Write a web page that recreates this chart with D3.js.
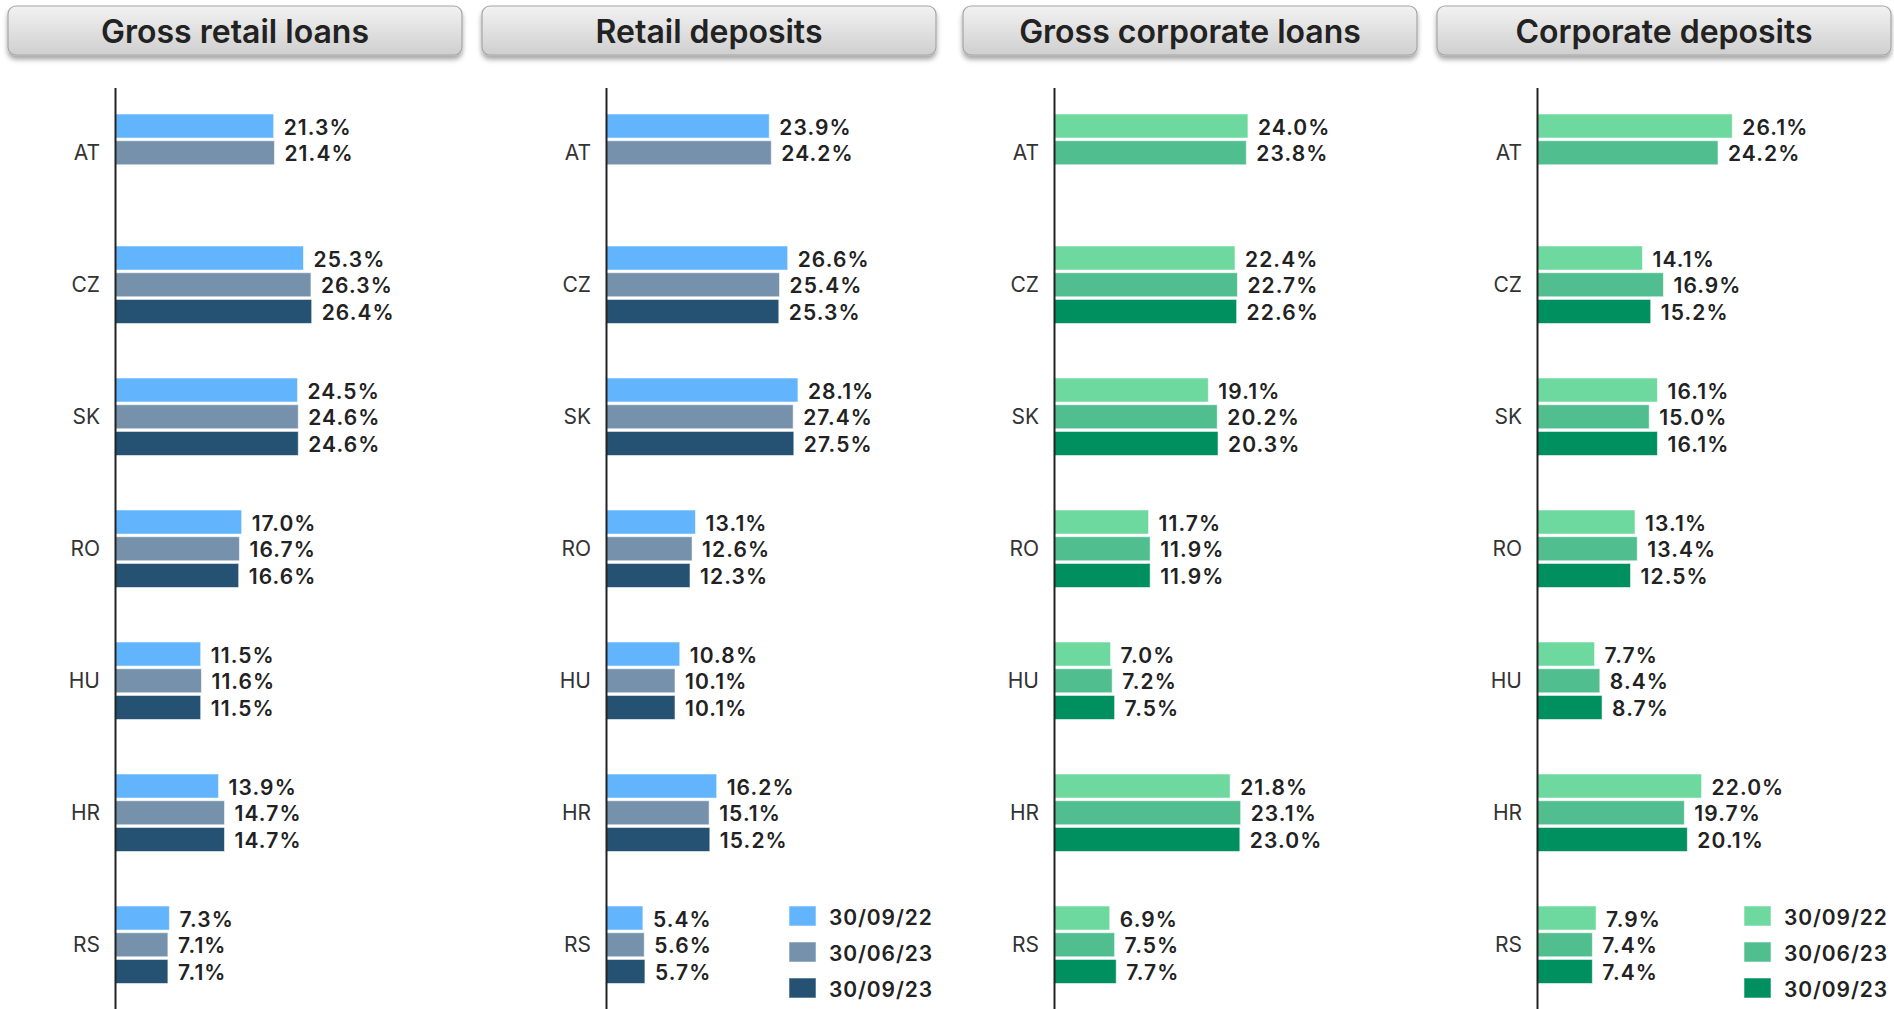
<!DOCTYPE html>
<html>
<head>
<meta charset="utf-8">
<script src="https://cdn.jsdelivr.net/npm/d3@7"></script>
<style>
  html, body { margin: 0; padding: 0; background: #fff; }
  svg { display: block; font-family: Inter, "Noto Sans", sans-serif; }
</style>
</head>
<body>
<svg id="chart" width="1894" height="1009"></svg>
<script>
// ---------- DATA ----------
const countries = ["AT", "CZ", "SK", "RO", "HU", "HR", "RS"];
const seriesLabels = ["30/09/22", "30/06/23", "30/09/23"];
const panelTitles = ["Gross retail loans", "Retail deposits", "Gross corporate loans", "Corporate deposits"];

// values per series (rows: 30/09/22, 30/06/23, 30/09/23), in %
const grossRetailLoans = [
  [21.3, 25.3, 24.5, 17.0, 11.5, 13.9, 7.3],
  [21.4, 26.3, 24.6, 16.7, 11.6, 14.7, 7.1],
  [null, 26.4, 24.6, 16.6, 11.5, 14.7, 7.1]
];
const retailDeposits = [
  [23.9, 26.6, 28.1, 13.1, 10.8, 16.2, 5.4],
  [24.2, 25.4, 27.4, 12.6, 10.1, 15.1, 5.6],
  [null, 25.3, 27.5, 12.3, 10.1, 15.2, 5.7]
];
const grossCorporateLoans = [
  [24.0, 22.4, 19.1, 11.7, 7.0, 21.8, 6.9],
  [23.8, 22.7, 20.2, 11.9, 7.2, 23.1, 7.5],
  [null, 22.6, 20.3, 11.9, 7.5, 23.0, 7.7]
];
const corporateDeposits = [
  [26.1, 14.1, 16.1, 13.1, 7.7, 22.0, 7.9],
  [24.2, 16.9, 15.0, 13.4, 8.4, 19.7, 7.4],
  [null, 15.2, 16.1, 12.5, 8.7, 20.1, 7.4]
];

// ---------- STYLE / LAYOUT ----------
const blues = ["#62b5fd", "#7691ac", "#255273"];
const greens = ["#6dd99e", "#50be8f", "#008f5e"];
const panelData = [grossRetailLoans, retailDeposits, grossCorporateLoans, corporateDeposits];
const panelColors = [blues, blues, greens, greens];
const panelBoxX = [8, 482, 963, 1437];
const panelAxisX = [115, 606, 1054, 1537];
const panelPxPerPct = [7.45, 6.83, 8.08, 7.48];
const panelLegend = [false, true, false, true];
const boxW = 454, boxY = 6, boxH = 49;

const svg = d3.select("#chart");
const defs = svg.append("defs");

const grad = defs.append("linearGradient").attr("id", "titleGrad")
  .attr("x1", 0).attr("y1", 0).attr("x2", 0).attr("y2", 1);
grad.append("stop").attr("offset", "0%").attr("stop-color", "#f2f2f2");
grad.append("stop").attr("offset", "100%").attr("stop-color", "#cfcfcf");

const shadow = defs.append("filter").attr("id", "shadow")
  .attr("x", "-10%").attr("y", "-30%").attr("width", "120%").attr("height", "170%");
shadow.append("feDropShadow").attr("dx", 0).attr("dy", 4).attr("stdDeviation", 2.5)
  .attr("flood-color", "#000").attr("flood-opacity", 0.35);

// shared category scale
const y = d3.scaleBand()
  .domain(countries)
  .range([87.6, 1009.9])
  .paddingInner(0.413)
  .paddingOuter(0.2);

const ySub = d3.scaleBand()
  .domain(seriesLabels)
  .range([0, y.bandwidth()])
  .paddingInner(0.1);

panelData.forEach((data, pi) => {
  const g = svg.append("g");
  const colors = panelColors[pi];

  // title box
  g.append("rect")
    .attr("x", panelBoxX[pi]).attr("y", boxY)
    .attr("width", boxW).attr("height", boxH)
    .attr("rx", 8).attr("ry", 8)
    .attr("fill", "url(#titleGrad)")
    .attr("stroke", "#a5a5a5").attr("stroke-width", 1.2)
    .attr("filter", "url(#shadow)");
  g.append("text")
    .attr("x", panelBoxX[pi] + boxW / 2).attr("y", boxY + boxH / 2 + 1)
    .attr("text-anchor", "middle").attr("dominant-baseline", "central")
    .attr("font-size", 32).attr("font-weight", 600).attr("fill", "#222")
    .text(panelTitles[pi]);

  const maxV = d3.max(data.flat());
  const x = d3.scaleLinear().domain([0, maxV]).range([0, maxV * panelPxPerPct[pi]]);
  const plot = g.append("g").attr("transform", `translate(${panelAxisX[pi]},0)`);

  // category labels
  plot.selectAll("text.cat").data(countries).join("text")
    .attr("class", "cat")
    .attr("x", -15)
    .attr("y", d => y(d) + y.bandwidth() / 2)
    .attr("text-anchor", "end").attr("dominant-baseline", "central")
    .attr("font-size", 21).attr("fill", "#333")
    .text(d => d);

  const items = [];
  data.forEach((row, si) => row.forEach((v, ci) => {
    if (v !== null && v !== undefined) items.push({ c: countries[ci], s: seriesLabels[si], si, v });
  }));

  plot.selectAll("rect.bar").data(items).join("rect")
    .attr("class", "bar")
    .attr("x", x(0))
    .attr("y", d => y(d.c) + ySub(d.s))
    .attr("width", d => x(d.v))
    .attr("height", ySub.bandwidth())
    .attr("fill", d => colors[d.si])
    .attr("stroke", "rgba(255,255,255,0.55)").attr("stroke-width", 1);

  plot.selectAll("text.val").data(items).join("text")
    .attr("class", "val")
    .attr("x", d => x(d.v) + 10)
    .attr("y", d => y(d.c) + ySub(d.s) + ySub.bandwidth() / 2 + 1)
    .attr("dominant-baseline", "central")
    .attr("font-size", 21).attr("font-weight", 600).attr("letter-spacing", 1.1)
    .attr("fill", "#222")
    .text(d => d.v.toFixed(1) + "%");

  // axis line
  const axis = d3.axisLeft(y).tickSize(0).tickFormat("");
  plot.append("g").call(axis)
    .call(s => s.select(".domain").attr("stroke", "#222").attr("stroke-width", 2));

  // legend
  if (panelLegend[pi]) {
    const lg = g.append("g").attr("transform", `translate(${panelBoxX[pi] + 307},906)`);
    const ly = d3.scalePoint().domain(seriesLabels).range([0, 72]);
    lg.selectAll("rect").data(seriesLabels).join("rect")
      .attr("x", 0).attr("y", d => ly(d))
      .attr("width", 27).attr("height", 20)
      .attr("fill", (d, i) => colors[i])
      .attr("stroke", "rgba(255,255,255,0.55)").attr("stroke-width", 1);
    lg.selectAll("text").data(seriesLabels).join("text")
      .attr("x", 40).attr("y", d => ly(d) + 11)
      .attr("dominant-baseline", "central")
      .attr("font-size", 21).attr("font-weight", 600).attr("letter-spacing", 0.9)
      .attr("fill", "#222")
      .text(d => d);
  }
});
</script>
</body>
</html>
